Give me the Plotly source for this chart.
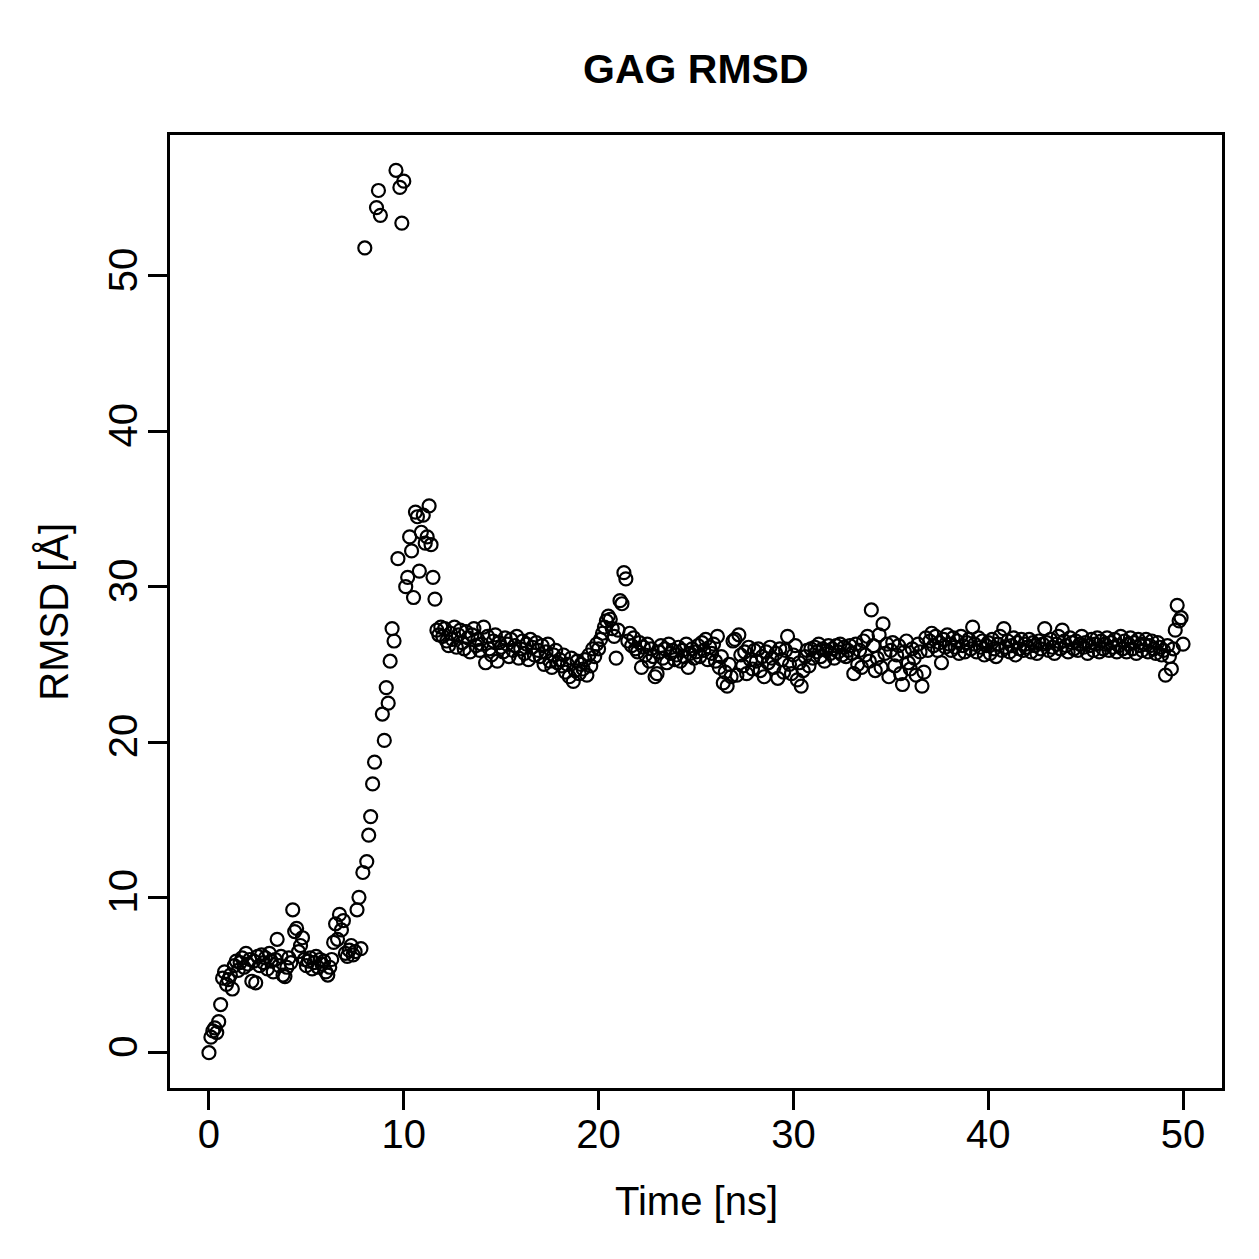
import plotly.graph_objects as go

# RMSD values (Å), one frame every 0.1 ns from 0 to 50 ns
rmsd_0_12 = [
    0.0, 1.0, 1.4, 1.6, 1.3, 2.0, 3.1, 4.8, 5.2, 4.4,
    4.7, 5.0, 4.1, 5.6, 5.9, 5.3, 5.8, 6.1, 5.5, 6.4,
    5.7, 6.0, 4.6, 5.9, 4.5, 6.2, 5.6, 6.3, 5.8, 6.1,
    5.4, 6.4, 5.9, 5.2, 6.0, 7.3, 5.6, 6.2, 5.0, 4.9,
    5.5, 6.1, 5.8, 9.2, 7.8, 8.0, 6.5, 6.9, 7.4, 6.0,
    5.6, 5.9, 6.1, 5.4, 5.8, 6.2, 5.5, 6.0, 5.7, 5.9,
    5.2, 5.0, 5.5, 6.0, 7.1, 8.3, 7.3, 8.9, 7.9, 8.5,
    6.4, 6.2, 6.6, 6.9, 6.3, 6.5, 9.2, 10.0, 6.7, 11.6,
    51.8, 12.3, 14.0, 15.2, 17.3, 18.7, 54.4, 55.5, 53.9, 21.8,
    20.1, 23.5, 22.5, 25.2, 27.3, 26.5, 56.8, 31.8, 55.7, 53.4,
    56.1, 30.0, 30.6, 33.2, 32.3, 29.3, 34.8, 34.5, 31.0, 33.5,
    34.6, 32.8, 33.2, 35.2, 32.7, 30.6, 29.2, 27.2, 26.9, 27.4,
]
rmsd_12_25 = [
    26.8, 27.3, 26.5, 26.2, 27.0, 26.6, 27.4, 26.1, 26.9, 27.2,
    26.4, 26.0, 27.1, 26.7, 25.8, 26.9, 27.3, 26.2, 26.6, 25.9,
    26.3, 27.4, 25.1, 26.8, 26.0, 25.6, 26.5, 26.9, 25.2, 26.4,
    26.1, 25.8, 26.7, 26.3, 25.5, 26.6, 25.9, 26.2, 26.8, 25.4,
    26.0, 26.5, 25.7, 26.3, 25.3, 26.6, 26.1, 25.6, 26.4, 25.9,
    25.5, 26.2, 25.0, 25.8, 26.3, 25.2, 24.8, 25.6, 25.9, 25.1,
    25.3, 24.9, 25.6, 24.5, 25.0, 24.2, 25.4, 23.9, 24.6, 25.2,
    24.4, 25.0, 24.7, 25.3, 24.3, 25.6, 24.9, 26.0, 25.5, 26.3,
    26.0, 26.6, 27.0, 27.4, 27.8, 28.1, 27.9, 27.3, 26.8, 25.4,
    27.2, 29.1, 28.9, 30.9, 30.5, 26.5, 27.0, 26.2, 26.7, 26.0,
    25.8, 26.4, 24.8, 26.1, 25.6, 26.3, 25.2, 26.0, 25.5, 24.2,
    24.4, 25.8, 26.2, 25.4, 26.0, 25.1, 26.3, 25.7, 25.9, 25.3,
    25.6, 26.1, 25.2, 25.9, 25.5, 26.3, 24.8, 25.7, 26.0, 25.4,
]
rmsd_25_38 = [
    25.8, 26.2, 25.5, 26.4, 25.9, 26.6, 25.3, 26.1, 25.7, 26.3,
    25.2, 26.8, 24.8, 25.5, 23.8, 24.5, 23.6, 25.0, 24.2, 26.5,
    26.6, 24.3, 26.9, 25.6, 24.9, 25.8, 24.4, 26.1, 25.3, 24.7,
    25.9, 25.2, 26.0, 24.6, 25.5, 24.2, 25.8, 25.1, 26.1, 25.4,
    24.8, 25.7, 24.1, 26.0, 25.3, 24.5, 25.9, 26.8, 25.0, 24.4,
    25.6, 26.2, 24.0, 25.1, 23.6, 24.6, 25.5, 25.9, 24.9, 26.0,
    25.4, 26.1, 25.8, 26.3, 25.5, 26.0, 25.2, 25.9, 26.2, 25.7,
    26.0, 25.4, 26.2, 25.8, 26.3, 25.6, 26.1, 25.5, 25.9, 26.2,
    25.7, 24.4, 26.3, 25.0, 25.9, 24.8, 26.5, 25.6, 26.8, 25.2,
    28.5, 26.2, 24.6, 25.4, 26.9, 24.8, 27.6, 25.7, 26.3, 24.2,
    25.9, 26.4, 24.9, 25.6, 26.2, 24.4, 23.7, 25.8, 26.5, 25.1,
    24.7, 26.0, 25.4, 24.3, 26.3, 25.8, 23.6, 24.5, 26.7, 25.9,
    26.5, 27.0, 26.2, 26.8, 25.9, 26.4, 25.1, 26.6, 26.1, 26.9,
]
rmsd_38_50 = [
    26.3, 25.9, 26.7, 26.1, 26.5, 25.7, 26.8, 26.2, 25.8, 26.4,
    26.6, 26.0, 27.4, 26.3, 25.8, 26.7, 26.1, 26.5, 25.6, 26.2,
    26.4, 25.7, 26.6, 26.0, 25.5, 26.3, 26.8, 25.9, 27.3, 26.1,
    26.5, 25.8, 26.2, 26.7, 25.6, 26.4, 26.0, 26.6, 25.9, 26.3,
    26.1, 26.6, 25.8, 26.4, 26.2, 25.7, 26.5, 26.0, 26.3, 27.3,
    26.4, 25.9, 26.6, 26.1, 25.7, 26.3, 26.8, 26.0, 27.2, 26.5,
    26.2, 25.8, 26.7, 26.4, 26.0, 26.5, 25.9, 26.3, 26.8, 26.1,
    26.4, 25.7, 26.2, 26.6, 25.9, 26.3, 26.7, 25.8, 26.5, 26.0,
    26.3, 26.7, 25.9, 26.4, 26.1, 26.6, 25.8, 26.2, 26.8, 26.0,
    26.5, 25.8, 26.3, 26.7, 26.0, 26.4, 25.7, 26.6, 26.2, 25.9,
    26.3, 26.6, 25.8, 26.2, 26.5, 26.0, 25.7, 26.4, 26.1, 25.6,
    25.9, 24.3, 26.2, 25.5, 24.7, 26.0, 27.2, 28.8, 27.8, 28.0,
    26.3,
]
rmsd = rmsd_0_12 + rmsd_12_25 + rmsd_25_38 + rmsd_38_50
frame_step_ns = 0.1
time_ns = [round(i * frame_step_ns, 1) for i in range(len(rmsd))]

x_ticks = [0, 10, 20, 30, 40, 50]
y_ticks = [0, 10, 20, 30, 40, 50]

def r_range(vals):
    lo, hi = min(vals), max(vals)
    pad = 0.04 * (hi - lo)
    return [lo - pad, hi + pad]

FONT = "Liberation Sans, Arial, Helvetica, sans-serif"

fig = go.Figure(
    go.Scatter(
        x=time_ns, y=rmsd, mode="markers",
        marker=dict(symbol="circle-open", size=13, color="black",
                    line=dict(width=2.2, color="black")),
        hoverinfo="x+y",
    )
)

axis_common = dict(
    showline=True, linecolor="black", linewidth=3, mirror=True,
    ticks="outside", ticklen=19, tickwidth=3, tickcolor="black",
    showgrid=False, zeroline=False,
    tickfont=dict(family=FONT, size=40, color="black"),
)

fig.update_layout(
    width=1259, height=1259,
    margin=dict(l=170, r=37, t=135, b=171, pad=0),
    paper_bgcolor="white", plot_bgcolor="white",
    showlegend=False,
    xaxis=dict(range=r_range(time_ns), tickvals=x_ticks, ticklabelstandoff=-10,
               **axis_common),
    yaxis=dict(range=r_range(rmsd), tickvals=y_ticks, tickangle=-90,
               ticklabelstandoff=-5, **axis_common),
    annotations=[
        dict(text="<b>GAG RMSD</b>", x=0.5, y=1.069, xref="paper", yref="paper",
             showarrow=False, xanchor="center", yanchor="middle",
             font=dict(family=FONT, size=41, color="black")),
        dict(text="Time [ns]", x=0.5, y=-0.119, xref="paper", yref="paper",
             showarrow=False, xanchor="center", yanchor="middle",
             font=dict(family=FONT, size=40, color="black")),
        dict(text="RMSD [Å]", x=-0.111, y=0.5, xref="paper", yref="paper",
             showarrow=False, xanchor="center", yanchor="middle", textangle=-90,
             font=dict(family=FONT, size=40, color="black")),
    ],
)

fig.write_html("out.html")
